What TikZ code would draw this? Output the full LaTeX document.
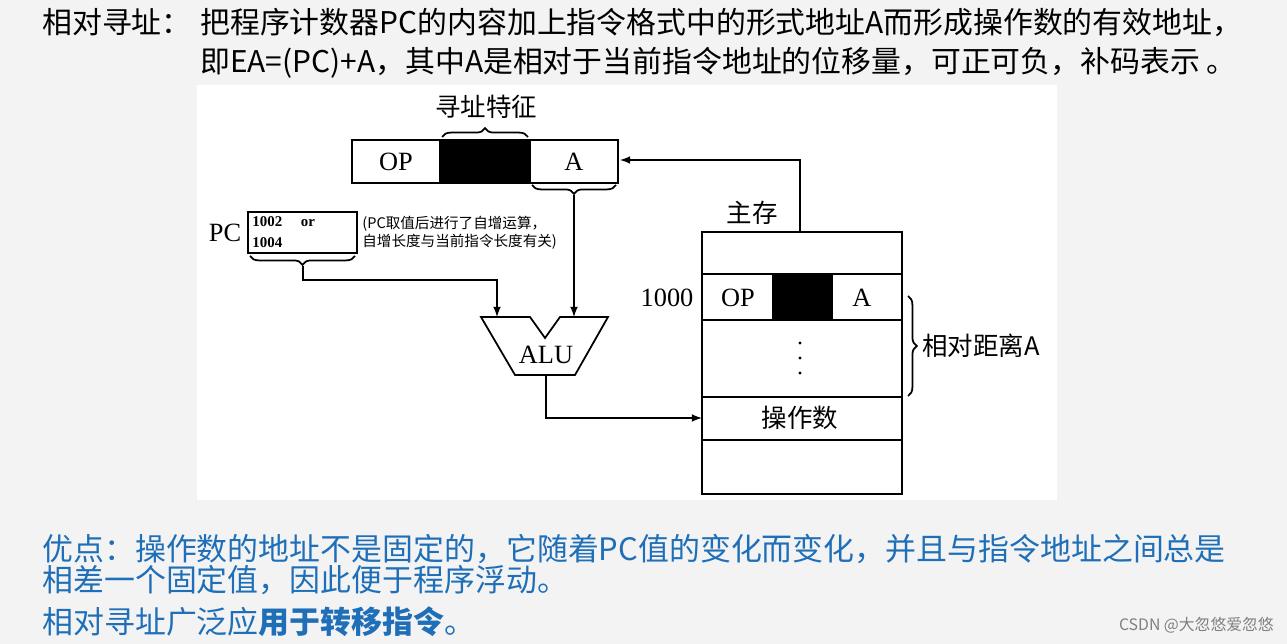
\documentclass[tikz,border=0pt]{standalone}
\usepackage{fontspec}
\setmainfont{Liberation Serif}
\newfontfamily\cjk{Noto Sans CJK SC}
\usetikzlibrary{arrows,decorations.pathreplacing}

\definecolor{slidebg}{HTML}{F3F3F3}
\definecolor{noteblue}{HTML}{1F6FB8}

\tikzset{
  box/.style={draw, line width=1pt},
  blk/.style={draw, fill=black, line width=1pt},
  arr/.style={-latex, line width=1pt},
  brc/.style={decorate, decoration={brace, amplitude=5pt}, line width=1pt},
  head/.style={font=\cjk\fontsize{17}{20}\selectfont, anchor=west, inner sep=0pt},
  note/.style={font=\cjk\fontsize{17.6}{20}\selectfont, anchor=west, inner sep=0pt, text=noteblue},
  lbl/.style={font=\fontsize{15}{17}\selectfont, inner sep=0pt},
  clbl/.style={font=\cjk\fontsize{14.5}{17}\selectfont},
}

\begin{document}
\begin{tikzpicture}[x=0.02cm, y=-0.02cm]
    \useasboundingbox (0,0) rectangle (1287,644);
    \fill[slidebg] (0,0) rectangle (1287,644);
    \fill[white] (197,85) rectangle (1057,500);

    % heading
    \node[head] (t0) at (42,22) {相对寻址：};
    \node[head] (t1) at (200,22) {把程序计数器PC的内容加上指令格式中的形式地址A而形成操作数的有效地址，};
    \node[head] (t2) at (200,63) {即EA=(PC)+A，其中A是相对于当前指令地址的位移量，可正可负，补码表示 。};

    % instruction
    \draw[box] (352,140) rectangle (440,183);
    \draw[blk] (440,140) rectangle (530,183);
    \draw[box] (530,140) rectangle (618,183);
    \node[lbl] (op) at (396,162) {OP};
    \node[lbl] (a) at (574,162) {A};
    \draw[brc] (442,137) -- (528,137);
    \node[clbl] (feat) at (486,107) {寻址特征};
    \draw[brc] (616,185) -- (532,185);
    \coordinate (abr) at (574,195);

    % PC
    \node[lbl] (pclbl) at (225,233) {PC};
    \draw[box] (248,212) rectangle (357,253);
    \node[font=\bfseries\fontsize{8.5}{10}\selectfont, anchor=west, align=left, inner sep=0pt] (pcv) at (252,232) {1002\quad\ or\\[2pt]1004};
    \node[font=\cjk\fontsize{8.3}{10}\selectfont, anchor=west, align=left, inner sep=0pt] (note) at (362,233) {(PC取值后进行了自增运算，\\自增长度与当前指令长度有关)};
    \draw[brc] (355,256) -- (250,256);
    \coordinate (pbr) at (303,266);

    % ALU
    \draw[line width=1pt] (481,317) -- (530,317) -- (545,338) -- (560,317) -- (608,317)
        -- (575,375) -- (515,375) -- cycle;
    \node[lbl] (alu) at (546,355) {ALU};
    \coordinate (aluL) at (497,317);
    \coordinate (aluR) at (574,317);
    \coordinate (aluB) at (546,375);

    % memory
    \node[clbl] (mem) at (752,213) {主存};
    \draw[box] (702,232) rectangle (902,494);
    \draw[line width=1pt] (702,274) -- (902,274);
    \draw[line width=1pt] (702,320) -- (902,320);
    \draw[line width=1pt] (702,397) -- (902,397);
    \draw[line width=1pt] (702,440) -- (902,440);
    \fill (772,274) rectangle (833,320);
    \node[lbl] (mop) at (738,298) {OP};
    \node[lbl] (ma) at (862,298) {A};
    \node[lbl] (addr) at (667,298) {1000};
    \fill (800,343) circle (1.6) (800,358) circle (1.6) (800,373) circle (1.6);
    \node[clbl] (opnd) at (800,418) {操作数};
    \coordinate (opndL) at (702,418);
    \coordinate (memT) at (800,232);
    \draw[brc] (908,296) -- (908,396);
    \node[clbl, anchor=west] (dist) at (916,346) {相对距离A};

    % connectors
    \draw[arr] (abr) -- (aluR);
    \draw[arr] (pbr) -- (303,280) -| (aluL);
    \draw[arr] (memT) |- (620,160);
    \draw[arr] (aluB) |- (opndL);

    % notes
    \node[note] (n1) at (42,549) {优点：操作数的地址不是固定的，它随着PC值的变化而变化，并且与指令地址之间总是};
    \node[note] (n2) at (42,580) {相差一个固定值，因此便于程序浮动。};
    \node[note] (n3) at (42,622) {相对寻址广泛应\textbf{用于转移指令}。};
    \node[font=\cjk\fontsize{9}{11}\selectfont, text=gray, anchor=east] (wm) at (1280,625) {CSDN @大忽悠爱忽悠};
\end{tikzpicture}
\end{document}
